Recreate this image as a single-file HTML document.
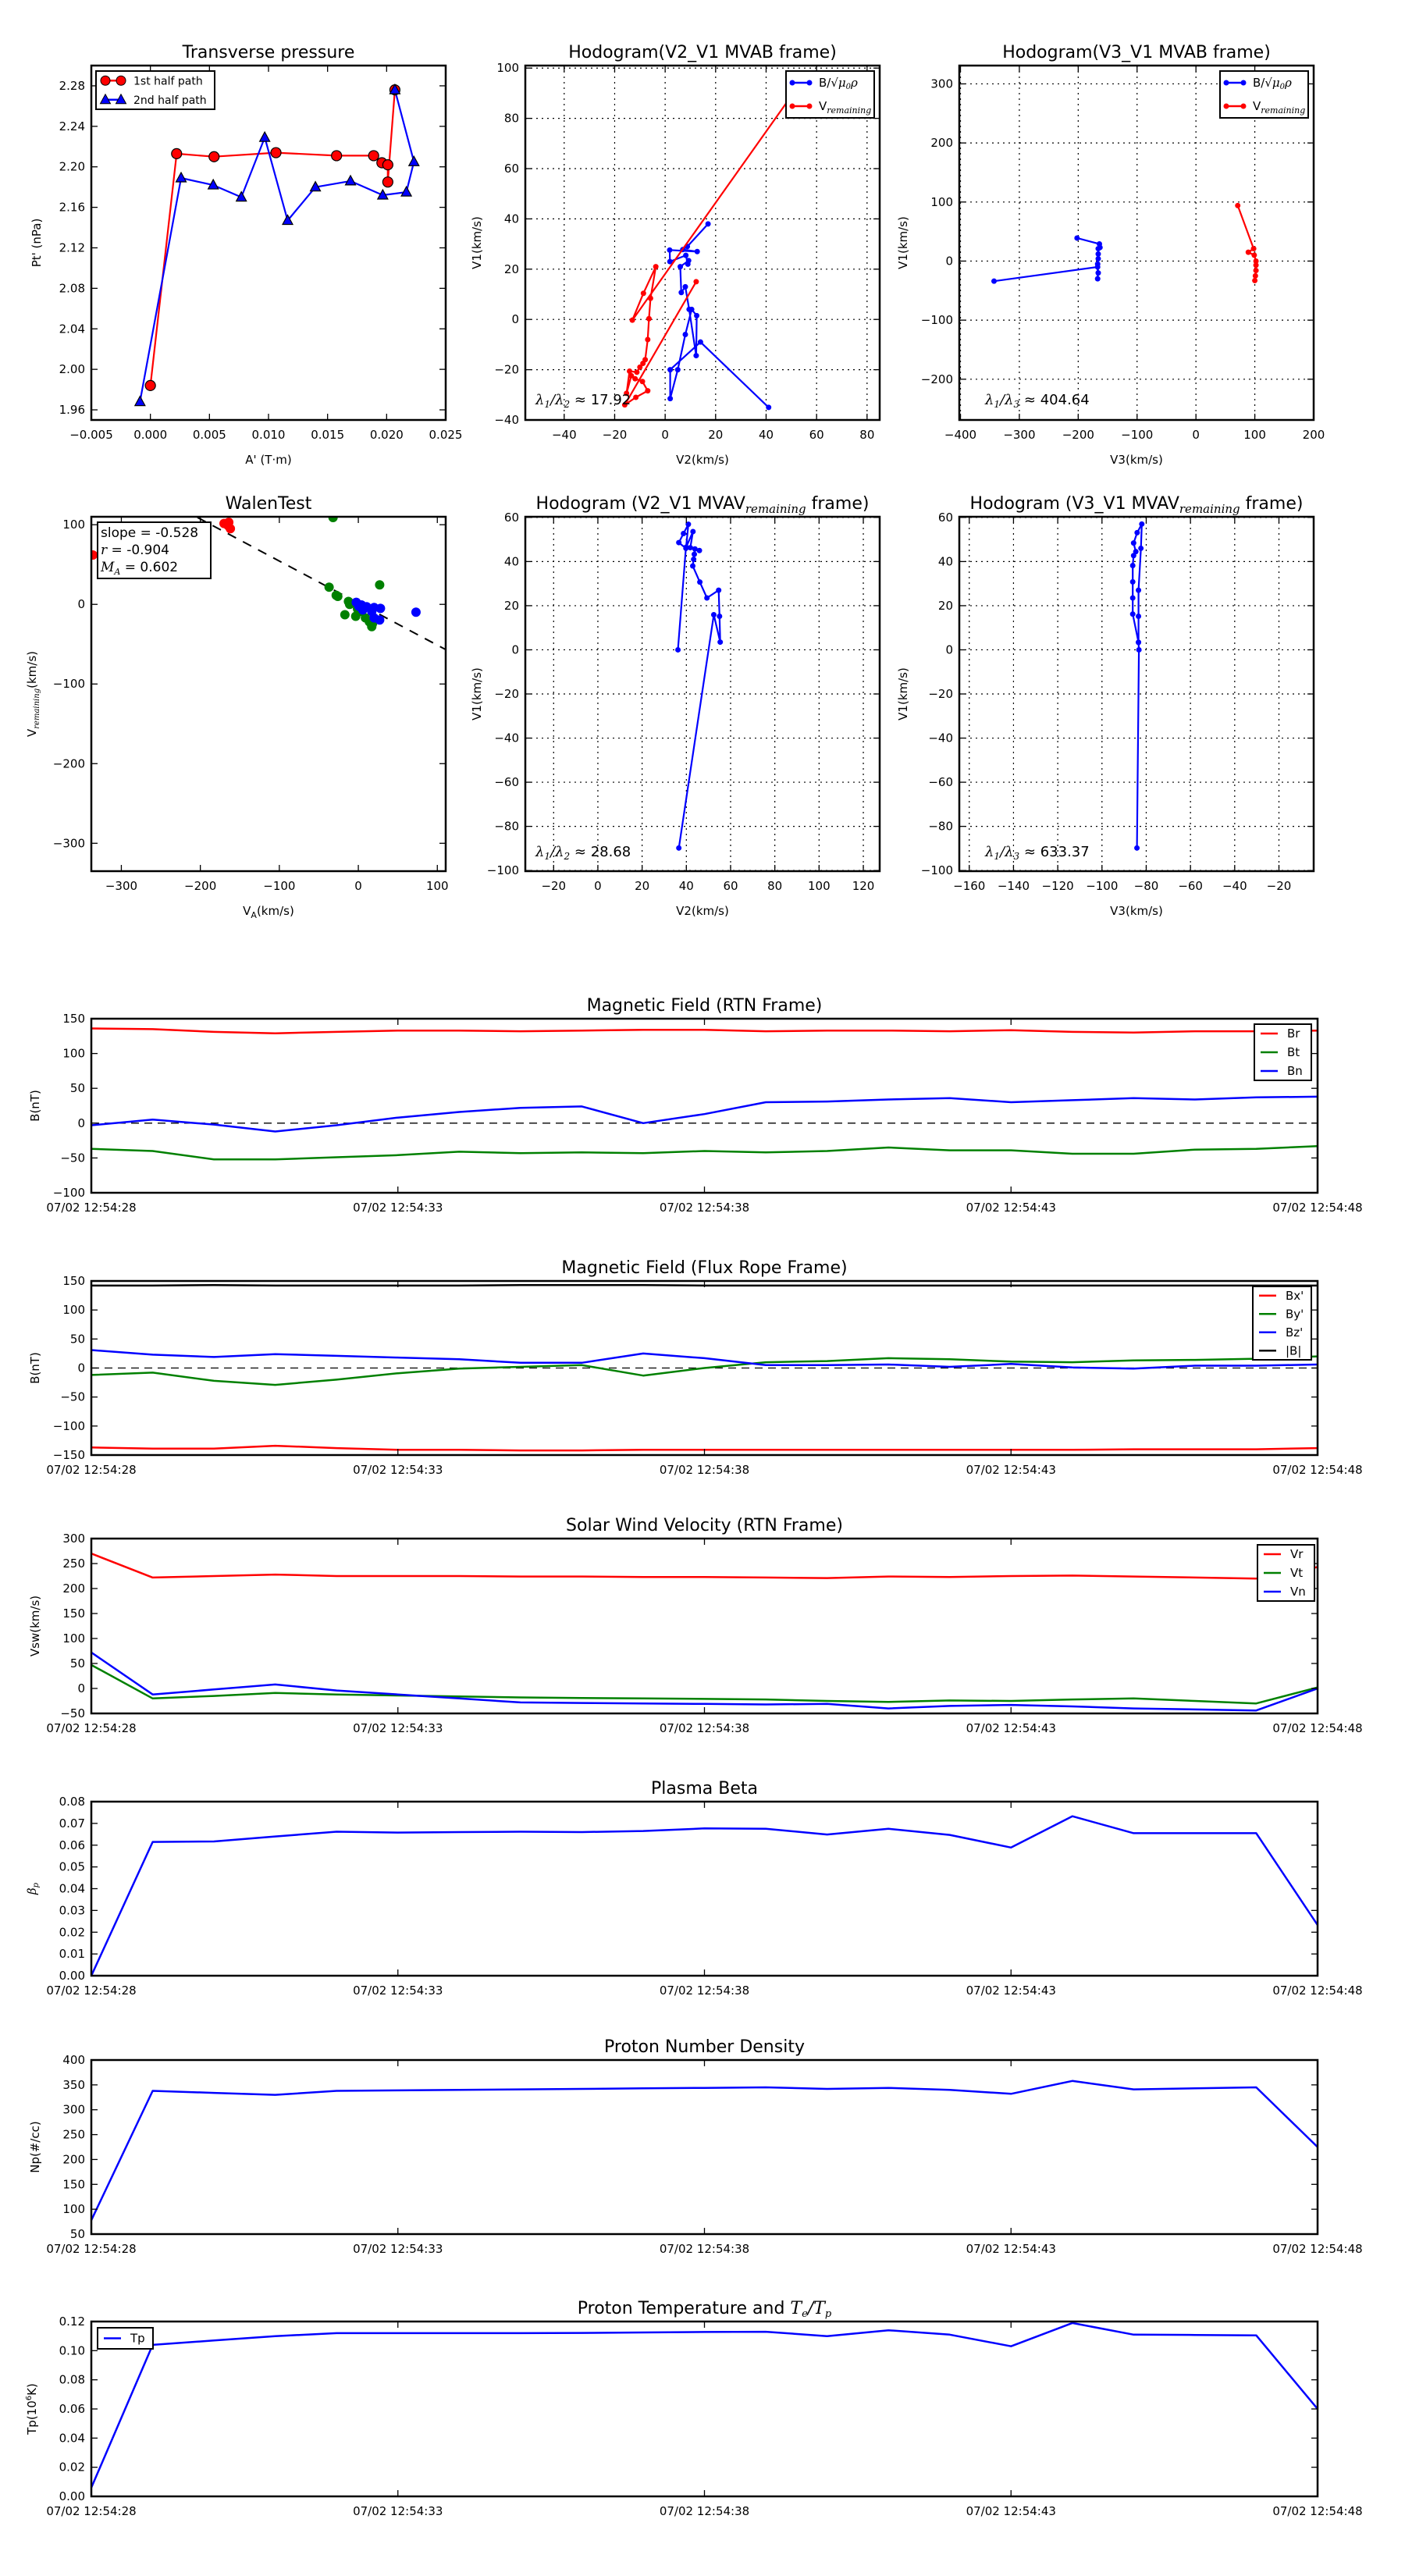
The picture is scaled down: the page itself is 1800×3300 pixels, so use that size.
<!DOCTYPE html>
<html><head><meta charset="utf-8"><title>Flux rope analysis</title>
<style>
html,body{margin:0;padding:0;background:#fff;}
svg{display:block;font-family:"DejaVu Sans","Liberation Sans",sans-serif;}
</style></head>
<body>
<svg id="fig" xmlns="http://www.w3.org/2000/svg" width="1800" height="3300" viewBox="0 0 1800 3300"></svg>
<script>
// ---------- data ----------
const tpRedX = [0.0000,0.00222,0.00539,0.01063,0.01576,0.0189,0.0196,0.0201,0.0201,0.0207];
const tpRedY = [1.984,2.213,2.210,2.214,2.211,2.211,2.204,2.202,2.185,2.276];
const tpBlueX = [0.0207,0.02231,0.02167,0.01967,0.01694,0.01397,0.01162,0.00968,0.0077,0.00532,0.0026,-0.00088];
const tpBlueY = [2.276,2.205,2.175,2.172,2.186,2.180,2.147,2.229,2.170,2.182,2.189,1.968];

const h1BX = [41,14,2,2,5,8,10.5,12.5,12.3,9.5,8,6.4,6,9.3,9,8.2,1.9,1.8,12.7,7,8.8,17];
const h1BY = [-35,-9,-20,-31.5,-20,-6,4,1.5,-14.4,4,13,10.7,21,23.4,22,25.5,23,27.6,27,27.8,29,38];
const h1RX = [55,-13,-8.6,-3.7,-5.8,-6.4,-6.9,-7.9,-8.8,-10,-11.2,-14.1,-15.3,-13.4,-11.9,-9,-6.9,-11.6,-16,12.3];
const h1RY = [96,-0.3,10.4,21,8.4,0.3,-8,-16,-17.5,-19,-21,-20.6,-29.4,-22.4,-23.6,-24.7,-28.4,-31,-34,15];

const h2BX = [-343,-167,-167,-166,-167,-166,-166,-166,-163,-164,-202];
const h2BY = [-34,-10,-30,-20,-5,4,12,21,23,29,39];
const h2RX = [71,98,89,99,102,102,102,101,100];
const h2RY = [94,21,15,10,0,-7,-16,-25,-33];

const wRedX = [-336,-170,-164,-165,-162];
const wRedY = [62,101.6,103,99,95];
const wGreenX = [-32,-37,-28,-26,-12.5,-11,-17,-3.3,27,9,14,17,18,4,-1];
const wGreenY = [109,21.6,11.4,10,3.6,0,-13,-15,24.5,-17,-22,-28,-24,-9,-5.6];
const wBlueX = [-2.6,4,10.5,5.6,20,28,20,27,73,17,0.7];
const wBlueY = [2.6,-0.7,-3,-7,-4,-5,-17,-19.6,-9.8,-9,-2.3];
const walenSlope = -0.528;
const walenIntercept = 1.6;

const h3X = [36.2,39.8,36.6,38.7,40.9,39.9,43,41.8,45.9,43.9,43.6,43.3,42.9,46.1,49.3,54.6,55,55.3,52.4,36.6];
const h3Y = [0,46,48.6,52.7,56.9,46.5,53.6,46.3,45,45.7,43.3,41,38,30.7,23.5,27,15.2,3.5,15.9,-89.8];
const h4X = [-84.2,-83.3,-83.5,-83.5,-83.5,-82.4,-82,-84.1,-85.7,-84.7,-85.7,-86.1,-86.1,-86.1,-86.1,-83.5];
const h4Y = [-89.8,0,3.4,15.2,27,46,57,53.1,48.4,44.5,42.7,38.2,30.8,23.5,16.2,3.4];

const timeSec = [0,1,2,3,4,5,6,7,8,9,10,11,12,13,14,15,16,17,18,19,20];
const timeTickSec = [0,5,10,15,20];
const timeTickLabels = ["07/02 12:54:28","07/02 12:54:33","07/02 12:54:38","07/02 12:54:43","07/02 12:54:48"];

const Br = [136,135,131,129,131,133,133,132,133,134,134,132,133,133,132,133.5,131,130,132,132,133];
const Bt = [-37,-40,-52,-52,-49,-46,-41,-43,-42,-43,-40,-42,-40,-35,-39,-39,-44,-44,-38,-37,-33];
const Bn = [-3,5,-2,-12,-3,8,16,22,24,0,13,30,31,34,36,30,33,36,34,37,38];

const Bx2 = [-137,-139,-139,-134,-138,-141,-141,-142,-142,-141,-141,-141,-141,-141,-141,-141,-141,-140,-140,-140,-138];
const By2 = [-12,-8,-22,-29,-20,-9,-1,2,5,-13,0,10,12,17,15,11,10,13,14,16,20];
const Bz2 = [31,23,19,24,21,18,15,9,9,25,17,5,5,6,2,7,1,-1,4,4,6];
const Bmag = [142,142,143,142,142,142,142,143,143,143,142,142,142,142,142,142,142,142,142,142,142];

const Vr = [270,222,225,228,225,225,225,224,224,223,223,222,221,224,223,225,226,224,222,220,243];
const Vt = [47,-20,-15,-9,-12,-14,-16,-18,-19,-20,-21,-22,-25,-27,-24,-25,-22,-20,-25,-30,2];
const Vn = [72,-12,-2,8,-4,-12,-20,-28,-29,-30,-31,-32,-31,-40,-35,-33,-36,-40,-42,-44,0];

const beta = [0.000,0.0615,0.0617,0.064,0.0662,0.0658,0.066,0.0662,0.066,0.0665,0.0677,0.0675,0.0649,0.0675,0.0647,0.0589,0.0733,0.0655,0.0655,0.0655,0.0233];
const Np = [78,338,334,330,338,339,340,341,342,343,344,345,342,344,340,332,358,341,343,345,225];
const Tp = [0.006,0.104,0.107,0.110,0.112,0.112,0.112,0.112,0.1122,0.1125,0.1128,0.113,0.110,0.114,0.111,0.103,0.119,0.111,0.1108,0.1105,0.060];

// ---------- helpers ----------
const NS = "http://www.w3.org/2000/svg";
const fig = document.getElementById('fig');
function mk(tag, parent){ const e = document.createElementNS(NS, tag); (parent||fig).appendChild(e); return e; }
function fmt(v, d){ const s = Math.abs(v).toFixed(d); return (v < -1e-12 ? "\u2212" : "") + s; }
let clipId = 0;

function makeAxes(o){
  const g = mk('g');
  
  
  const sx = v => o.x0 + (v - o.xmin) / (o.xmax - o.xmin) * (o.x1 - o.x0);
  const sy = v => o.y1 - (v - o.ymin) / (o.ymax - o.ymin) * (o.y1 - o.y0);
  const cid = 'clip' + (clipId++);
  const cp = mk('clipPath', g); cp.setAttribute('id', cid);
  const cr = mk('rect', cp);
  cr.setAttribute('x', o.x0); cr.setAttribute('y', o.y0);
  cr.setAttribute('width', o.x1 - o.x0); cr.setAttribute('height', o.y1 - o.y0);
  const plot = mk('g', g);
  plot.setAttribute('clip-path', 'url(#' + cid + ')');
  
  
  // grid
  if (o.grid){
    o.xticks.forEach(v => {
      const l = mk('line', plot);
      
      
      l.setAttribute('x1', sx(v)); l.setAttribute('x2', sx(v)); l.setAttribute('y1', o.y0); l.setAttribute('y2', o.y1);
      l.setAttribute('stroke', '#000'); l.setAttribute('stroke-width', '1.2'); l.setAttribute('stroke-dasharray', '2,5');
    });
    o.yticks.forEach(v => {
      const l = mk('line', plot);
      
      
      l.setAttribute('x1', o.x0); l.setAttribute('x2', o.x1); l.setAttribute('y1', sy(v)); l.setAttribute('y2', sy(v));
      l.setAttribute('stroke', '#000'); l.setAttribute('stroke-width', '1.2'); l.setAttribute('stroke-dasharray', '2,5');
    });
  }
  // ticks
  const tk = mk('g', g);
  
  
  o.xticks.forEach((v, i) => {
    [[o.y1, -8], [o.y0, 8]].forEach(p => {
      const l = mk('line', tk);
      l.setAttribute('x1', sx(v)); l.setAttribute('x2', sx(v)); l.setAttribute('y1', p[0]); l.setAttribute('y2', p[0] + p[1]);
      l.setAttribute('stroke', '#000'); l.setAttribute('stroke-width', '1.3');
    });
    const t = mk('text', tk);
    
    
    t.setAttribute('x', sx(v)); t.setAttribute('y', o.y1 + 24);
    t.setAttribute('text-anchor', 'middle'); t.setAttribute('font-size', '15');
    t.textContent = o.xlabels ? o.xlabels[i] : fmt(v, o.xd || 0);
  });
  o.yticks.forEach(v => {
    [[o.x0, 8], [o.x1, -8]].forEach(p => {
      const l = mk('line', tk);
      l.setAttribute('x1', p[0]); l.setAttribute('x2', p[0] + p[1]); l.setAttribute('y1', sy(v)); l.setAttribute('y2', sy(v));
      l.setAttribute('stroke', '#000'); l.setAttribute('stroke-width', '1.3');
    });
    const t = mk('text', tk);
    
    
    t.setAttribute('x', o.x0 - 8); t.setAttribute('y', sy(v) + 5);
    t.setAttribute('text-anchor', 'end'); t.setAttribute('font-size', '15');
    t.textContent = fmt(v, o.yd || 0);
  });
  // frame
  const fr = mk('rect', g);
  
  
  fr.setAttribute('x', o.x0); fr.setAttribute('y', o.y0); fr.setAttribute('width', o.x1 - o.x0); fr.setAttribute('height', o.y1 - o.y0);
  fr.setAttribute('fill', 'none'); fr.setAttribute('stroke', '#000'); fr.setAttribute('stroke-width', '2.5');
  // title
  const tt = mk('text', g);
  
  
  tt.setAttribute('x', (o.x0 + o.x1) / 2); tt.setAttribute('y', o.y0 - 10);
  tt.setAttribute('text-anchor', 'middle'); tt.setAttribute('font-size', '22');
  tt.innerHTML = o.title;
  if (o.xtitle){
    const xt = mk('text', g);
    
    
    xt.setAttribute('x', (o.x0 + o.x1) / 2); xt.setAttribute('y', o.y1 + 56);
    xt.setAttribute('text-anchor', 'middle'); xt.setAttribute('font-size', '15');
    xt.innerHTML = o.xtitle;
  }
  if (o.ytitle){
    const yt = mk('text', g);
    
    
    const cx = o.ytx, cy = (o.y0 + o.y1) / 2;
    yt.setAttribute('x', cx); yt.setAttribute('y', cy);
    yt.setAttribute('transform', 'rotate(-90 ' + cx + ' ' + cy + ')');
    yt.setAttribute('text-anchor', 'middle'); yt.setAttribute('font-size', '15');
    yt.innerHTML = o.ytitle;
  }
  return {g, plot, sx, sy};
}

function drawLine(ax, xs, ys, color, name, w){
  const p = mk('polyline', ax.plot);
  
  
  p.setAttribute('points', xs.map((x, i) => ax.sx(x).toFixed(1) + ',' + ax.sy(ys[i]).toFixed(1)).join(' '));
  p.setAttribute('fill', 'none'); p.setAttribute('stroke', color); p.setAttribute('stroke-width', w || 2.5);
  p.setAttribute('stroke-linejoin', 'round');
  return p;
}
function drawDots(ax, xs, ys, color, r, name, stroke){
  xs.forEach((x, i) => {
    const c = mk('circle', ax.plot);
    
    
    c.setAttribute('cx', ax.sx(x)); c.setAttribute('cy', ax.sy(ys[i])); c.setAttribute('r', r);
    c.setAttribute('fill', color);
    if (stroke){ c.setAttribute('stroke', '#000'); c.setAttribute('stroke-width', '1.2'); }
  });
}
function drawTris(ax, xs, ys, name){
  xs.forEach((x, i) => {
    const cx = ax.sx(x), cy = ax.sy(ys[i]);
    const p = mk('polygon', ax.plot);
    
    
    p.setAttribute('points', cx + ',' + (cy - 7) + ' ' + (cx - 6.5) + ',' + (cy + 5) + ' ' + (cx + 6.5) + ',' + (cy + 5));
    p.setAttribute('fill', '#0000ff'); p.setAttribute('stroke', '#000'); p.setAttribute('stroke-width', '1.2');
  });
}
function legend(x, y, w, h, items, name, fs, markerType){
  const g = mk('g');
  
  
  const r = mk('rect', g);
  r.setAttribute('x', x); r.setAttribute('y', y); r.setAttribute('width', w); r.setAttribute('height', h);
  r.setAttribute('fill', '#fff'); r.setAttribute('stroke', '#000'); r.setAttribute('stroke-width', '2');
  const step = h / items.length;
  items.forEach((it, i) => {
    const cy = y + step * (i + 0.5);
    const e = mk('g', g);
    
    
    const l = mk('line', e);
    l.setAttribute('x1', x + 8); l.setAttribute('x2', x + 30); l.setAttribute('y1', cy); l.setAttribute('y2', cy);
    l.setAttribute('stroke', it[1]); l.setAttribute('stroke-width', '2.5');
    if (markerType === 'dot'){
      [x + 8, x + 30].forEach(mx => { const c = mk('circle', e); c.setAttribute('cx', mx); c.setAttribute('cy', cy); c.setAttribute('r', 3.5); c.setAttribute('fill', it[1]); });
    } else if (markerType === 'big'){
      [x + 12, x + 32].forEach(mx => {
        if (i === 0){ const c = mk('circle', e); c.setAttribute('cx', mx); c.setAttribute('cy', cy); c.setAttribute('r', 6); c.setAttribute('fill', it[1]); c.setAttribute('stroke', '#000'); }
        else { const p = mk('polygon', e); p.setAttribute('points', mx + ',' + (cy - 7) + ' ' + (mx - 6.5) + ',' + (cy + 5) + ' ' + (mx + 6.5) + ',' + (cy + 5)); p.setAttribute('fill', it[1]); p.setAttribute('stroke', '#000'); }
      });
    }
    const t = mk('text', e);
    t.setAttribute('x', x + (markerType === 'big' ? 48 : 42)); t.setAttribute('y', cy + 5);
    t.setAttribute('font-size', fs || 15);
    t.innerHTML = it[0];
  });
}
function note(x, y, html, name, fs){
  const t = mk('text');
  
  
  t.setAttribute('x', x); t.setAttribute('y', y); t.setAttribute('font-size', fs || 18);
  t.innerHTML = html;
}
function range(a, b, s){ const r = []; for (let v = a; v <= b + s * 1e-6; v += s) r.push(+v.toFixed(6)); return r; }

const SQ = 'B/<tspan font-family="DejaVu Serif" font-style="italic">√μ<tspan font-size="10" dy="3">0</tspan><tspan dy="-3">ρ</tspan></tspan>';
const VREM = 'V<tspan font-family="DejaVu Serif" font-style="italic" font-size="11" dy="4">remaining</tspan>';

// ---------- Transverse pressure ----------
{
  const ax = makeAxes({name:'transverse-pressure-chart', x0:117, x1:571, y0:84, y1:538, xmin:-0.005, xmax:0.025, ymin:1.95, ymax:2.30,
    xticks:range(-0.005,0.025,0.005), yticks:range(1.96,2.28,0.04), xd:3, yd:2, title:'Transverse pressure', xtitle:"A' (T·m)", ytitle:"Pt' (nPa)", ytx:52});
  drawLine(ax, tpRedX, tpRedY, '#ff0000', 'first-half-path-line', 2.2);
  drawLine(ax, tpBlueX, tpBlueY, '#0000ff', 'second-half-path-line', 2.2);
  drawDots(ax, tpRedX, tpRedY, '#ff0000', 6.5, 'first-half-point', true);
  drawTris(ax, tpBlueX, tpBlueY, 'second-half-point');
  legend(123, 91, 152, 49, [['1st half path','#ff0000'],['2nd half path','#0000ff']], 'transverse-legend', 14, 'big');
}
// ---------- Hodogram V2_V1 MVAB ----------
{
  const ax = makeAxes({name:'hodogram-v2-v1-mvab', x0:673, x1:1127, y0:84, y1:538, xmin:-55.4, xmax:85, ymin:-40, ymax:101,
    xticks:range(-40,80,20), yticks:range(-40,100,20), grid:true, title:'Hodogram(V2_V1 MVAB frame)', xtitle:'V2(km/s)', ytitle:'V1(km/s)', ytx:616});
  drawLine(ax, h1BX, h1BY, '#0000ff', 'b-hodogram-line', 2.2);
  drawDots(ax, h1BX, h1BY, '#0000ff', 3.5, 'b-hodogram-point');
  drawLine(ax, h1RX, h1RY, '#ff0000', 'v-hodogram-line', 2.2);
  drawDots(ax, h1RX, h1RY, '#ff0000', 3.5, 'v-hodogram-point');
  legend(1007, 91, 113, 60, [[SQ,'#0000ff'],[VREM,'#ff0000']], 'hodogram1-legend', 15, 'dot');
  note(686, 518, '<tspan font-family="DejaVu Serif" font-style="italic">λ<tspan font-size="12" dy="4">1</tspan><tspan dy="-4">/λ</tspan><tspan font-size="12" dy="4">2</tspan></tspan><tspan dy="-4"> ≈ 17.92</tspan>', 'eigen-ratio-label');
}
// ---------- Hodogram V3_V1 MVAB ----------
{
  const ax = makeAxes({name:'hodogram-v3-v1-mvab', x0:1229, x1:1683, y0:84, y1:538, xmin:-402, xmax:200, ymin:-269, ymax:331,
    xticks:range(-400,200,100), yticks:range(-200,300,100), grid:true, title:'Hodogram(V3_V1 MVAB frame)', xtitle:'V3(km/s)', ytitle:'V1(km/s)', ytx:1162});
  drawLine(ax, h2BX, h2BY, '#0000ff', 'b-hodogram-line', 2.2);
  drawDots(ax, h2BX, h2BY, '#0000ff', 3.5, 'b-hodogram-point');
  drawLine(ax, h2RX, h2RY, '#ff0000', 'v-hodogram-line', 2.2);
  drawDots(ax, h2RX, h2RY, '#ff0000', 3.5, 'v-hodogram-point');
  legend(1563, 91, 113, 60, [[SQ,'#0000ff'],[VREM,'#ff0000']], 'hodogram2-legend', 15, 'dot');
  note(1262, 518, '<tspan font-family="DejaVu Serif" font-style="italic">λ<tspan font-size="12" dy="4">1</tspan><tspan dy="-4">/λ</tspan><tspan font-size="12" dy="4">3</tspan></tspan><tspan dy="-4"> ≈ 404.64</tspan>', 'eigen-ratio-label');
}
// ---------- Walen test ----------
{
  const ax = makeAxes({name:'walen-test-chart', x0:117, x1:571, y0:662, y1:1116, xmin:-338, xmax:110.6, ymin:-335, ymax:110,
    xticks:range(-300,100,100), yticks:range(-300,100,100), title:'WalenTest', xtitle:'V<tspan font-size="11" dy="4">A</tspan><tspan dy="-4">(km/s)</tspan>', ytitle:'V<tspan font-family="DejaVu Serif" font-style="italic" font-size="10" dy="4">remaining</tspan><tspan dy="-4">(km/s)</tspan>', ytx:46});
  const dl = mk('line', ax.plot);
  
  
  dl.setAttribute('x1', ax.sx(-338)); dl.setAttribute('y1', ax.sy(walenIntercept + walenSlope * -338));
  dl.setAttribute('x2', ax.sx(110.6)); dl.setAttribute('y2', ax.sy(walenIntercept + walenSlope * 110.6));
  dl.setAttribute('stroke', '#000'); dl.setAttribute('stroke-width', '2'); dl.setAttribute('stroke-dasharray', '12,10');
  drawDots(ax, wRedX, wRedY, '#ff0000', 6, 'walen-point-red');
  drawDots(ax, wGreenX, wGreenY, '#008000', 6, 'walen-point-green');
  drawDots(ax, wBlueX, wBlueY, '#0000ff', 6, 'walen-point-blue');
  const bx = mk('rect');
  
  
  bx.setAttribute('x', 125); bx.setAttribute('y', 669); bx.setAttribute('width', 145); bx.setAttribute('height', 72);
  bx.setAttribute('fill', '#fff'); bx.setAttribute('stroke', '#000'); bx.setAttribute('stroke-width', '2');
  note(129, 688, 'slope = -0.528', 'slope-label', 17);
  note(129, 710, '<tspan font-family="DejaVu Serif" font-style="italic">r</tspan> = -0.904', 'r-label', 17);
  note(129, 732, '<tspan font-family="DejaVu Serif" font-style="italic">M<tspan font-size="11" dy="4">A</tspan></tspan><tspan dy="-4"> = 0.602</tspan>', 'ma-label', 17);
}
// ---------- Hodogram MVAV V2 ----------
{
  const ax = makeAxes({name:'hodogram-v2-v1-mvav', x0:673, x1:1127, y0:662, y1:1116, xmin:-32.8, xmax:127.4, ymin:-100.3, ymax:60.3,
    xticks:range(-20,120,20), yticks:range(-100,60,20), grid:true, title:'Hodogram (V2_V1 MVAV<tspan font-family="DejaVu Serif" font-style="italic" font-size="15" dy="5">remaining</tspan><tspan dy="-5"> frame)</tspan>', xtitle:'V2(km/s)', ytitle:'V1(km/s)', ytx:616});
  drawLine(ax, h3X, h3Y, '#0000ff', 'b-hodogram-line', 2.2);
  drawDots(ax, h3X, h3Y, '#0000ff', 3.5, 'b-hodogram-point');
  note(686, 1097, '<tspan font-family="DejaVu Serif" font-style="italic">λ<tspan font-size="12" dy="4">1</tspan><tspan dy="-4">/λ</tspan><tspan font-size="12" dy="4">2</tspan></tspan><tspan dy="-4"> ≈ 28.68</tspan>', 'eigen-ratio-label');
}
// ---------- Hodogram MVAV V3 ----------
{
  const ax = makeAxes({name:'hodogram-v3-v1-mvav', x0:1229, x1:1683, y0:662, y1:1116, xmin:-164.5, xmax:-4.3, ymin:-100.3, ymax:60.3,
    xticks:range(-160,-20,20), yticks:range(-100,60,20), grid:true, title:'Hodogram (V3_V1 MVAV<tspan font-family="DejaVu Serif" font-style="italic" font-size="15" dy="5">remaining</tspan><tspan dy="-5"> frame)</tspan>', xtitle:'V3(km/s)', ytitle:'V1(km/s)', ytx:1162});
  drawLine(ax, h4X, h4Y, '#0000ff', 'b-hodogram-line', 2.2);
  drawDots(ax, h4X, h4Y, '#0000ff', 3.5, 'b-hodogram-point');
  note(1262, 1097, '<tspan font-family="DejaVu Serif" font-style="italic">λ<tspan font-size="12" dy="4">1</tspan><tspan dy="-4">/λ</tspan><tspan font-size="12" dy="4">3</tspan></tspan><tspan dy="-4"> ≈ 633.37</tspan>', 'eigen-ratio-label');
}
// ---------- time series ----------
function ts(o){
  return makeAxes(Object.assign({x0:117, x1:1688, xmin:0, xmax:20, xticks:timeTickSec, xlabels:timeTickLabels, ytx:50}, o));
}
function zeroLine(ax){
  const l = mk('line', ax.plot);
  
  
  l.setAttribute('x1', ax.sx(0)); l.setAttribute('x2', ax.sx(20)); l.setAttribute('y1', ax.sy(0)); l.setAttribute('y2', ax.sy(0));
  l.setAttribute('stroke', '#000'); l.setAttribute('stroke-width', '1.3'); l.setAttribute('stroke-dasharray', '10,7');
}
{
  const ax = ts({name:'magnetic-field-rtn-chart', y0:1305, y1:1528, ymin:-100, ymax:150, yticks:range(-100,150,50), title:'Magnetic Field (RTN Frame)', ytitle:'B(nT)'});
  zeroLine(ax);
  drawLine(ax, timeSec, Br, '#ff0000', 'br-line');
  drawLine(ax, timeSec, Bt, '#008000', 'bt-line');
  drawLine(ax, timeSec, Bn, '#0000ff', 'bn-line');
  legend(1607, 1312, 73, 72, [['Br','#ff0000'],['Bt','#008000'],['Bn','#0000ff']], 'rtn-legend', 15);
}
{
  const ax = ts({name:'magnetic-field-flux-rope-chart', y0:1641, y1:1864, ymin:-150, ymax:150, yticks:range(-150,150,50), title:'Magnetic Field (Flux Rope Frame)', ytitle:'B(nT)'});
  zeroLine(ax);
  drawLine(ax, timeSec, Bx2, '#ff0000', 'bx-line');
  drawLine(ax, timeSec, By2, '#008000', 'by-line');
  drawLine(ax, timeSec, Bz2, '#0000ff', 'bz-line');
  drawLine(ax, timeSec, Bmag, '#000000', 'bmag-line');
  legend(1605, 1648, 75, 94, [["Bx'",'#ff0000'],["By'",'#008000'],["Bz'",'#0000ff'],['|B|','#000000']], 'flux-rope-legend', 15);
}
{
  const ax = ts({name:'solar-wind-velocity-chart', y0:1971, y1:2195, ymin:-50, ymax:300, yticks:range(-50,300,50), title:'Solar Wind Velocity (RTN Frame)', ytitle:'Vsw(km/s)'});
  drawLine(ax, timeSec, Vr, '#ff0000', 'vr-line');
  drawLine(ax, timeSec, Vt, '#008000', 'vt-line');
  drawLine(ax, timeSec, Vn, '#0000ff', 'vn-line');
  legend(1611, 1979, 73, 72, [['Vr','#ff0000'],['Vt','#008000'],['Vn','#0000ff']], 'velocity-legend', 15);
}
{
  const ax = ts({name:'plasma-beta-chart', y0:2308, y1:2531, ymin:0, ymax:0.08, yticks:range(0,0.08,0.01), yd:2, title:'Plasma Beta', ytitle:'<tspan font-family="DejaVu Serif" font-style="italic">β<tspan font-size="10" dy="3">p</tspan></tspan>', ytx:46});
  drawLine(ax, timeSec, beta, '#0000ff', 'beta-line');
}
{
  const ax = ts({name:'proton-density-chart', y0:2639, y1:2862, ymin:50, ymax:400, yticks:range(50,400,50), title:'Proton Number Density', ytitle:'Np(#/cc)'});
  drawLine(ax, timeSec, Np, '#0000ff', 'density-line');
}
{
  const ax = ts({name:'proton-temperature-chart', y0:2974, y1:3198, ymin:0, ymax:0.12, yticks:range(0,0.12,0.02), yd:2, title:'Proton Temperature and <tspan font-family="DejaVu Serif" font-style="italic">T<tspan font-size="13" dy="4">e</tspan><tspan dy="-4">/T</tspan><tspan font-size="13" dy="4">p</tspan></tspan>', ytitle:'Tp(10<tspan font-size="10" dy="-6">6</tspan><tspan dy="6">K)</tspan>', ytx:46});
  drawLine(ax, timeSec, Tp, '#0000ff', 'temperature-line');
  legend(125, 2982, 71, 27, [['Tp','#0000ff']], 'temperature-legend', 15);
}
</script>
</body></html>
